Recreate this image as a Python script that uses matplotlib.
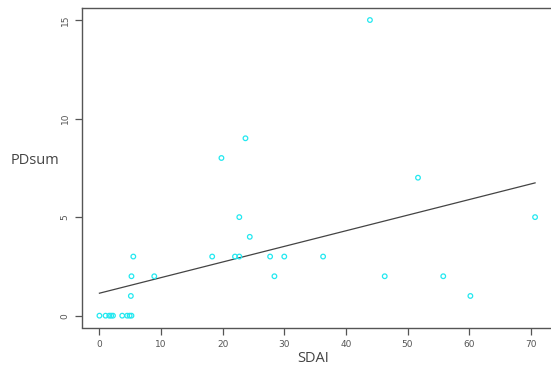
import numpy as np
import matplotlib
matplotlib.use("Agg")
import matplotlib.pyplot as plt

# SDAI score and summed PD count per patient
sdai = [0.0, 1.0, 1.6, 1.9, 2.2, 3.7, 4.5, 4.9, 5.2,
        5.1, 5.2, 8.9, 5.5, 18.3, 22.0, 22.7, 27.7, 30.0,
        28.4, 24.4, 22.7, 19.8, 23.7, 43.9, 51.7, 36.3,
        46.3, 55.8, 60.2, 70.7]
pdsum = [0, 0, 0, 0, 0, 0, 0, 0, 0,
         1, 2, 2, 3, 3, 3, 3, 3, 3,
         2, 4, 5, 8, 9, 15, 7, 3,
         2, 2, 1, 5]

x_ticks = [0, 10, 20, 30, 40, 50, 60, 70]
y_ticks = [0, 5, 10, 15]

x = np.array(sdai)
y = np.array(pdsum)
slope, intercept = np.polyfit(x, y, 1)

W, H = 551, 374
fig = plt.figure(figsize=(W / 100, H / 100), dpi=100)
fig.patch.set_facecolor("white")
left, right, bottom, top = 82, 552.5, 327.5, 8.2
ax = fig.add_axes([left / W, (H - bottom) / H, (right - left) / W, (bottom - top) / H])

ax.scatter(x, y, s=11, facecolors="none", edgecolors="#22e8f0", linewidths=0.9, zorder=3)
xs = np.array([x.min(), x.max()])
ax.plot(xs, intercept + slope * xs, color="#444444", lw=0.9, zorder=2)

xpad = 0.04 * (x.max() - x.min())
ax.set_xlim(x.min() - xpad, x.max() + xpad)
ax.set_ylim(-0.6, 15.6)

ax.set_xticks(x_ticks)
ax.set_yticks(y_ticks)
ax.set_xticklabels([str(t) for t in x_ticks])
ax.set_yticklabels([str(t) for t in y_ticks], rotation=90, va="center")
ax.tick_params(axis="both", length=5, width=0.9, color="#555555",
               labelsize=6.5, labelcolor="#555555", pad=4)

for s in ax.spines.values():
    s.set_color("#555555")
    s.set_linewidth(1.0)
ax.spines["right"].set_visible(False)

fig.text(313 / W, 1 - 359 / H, "SDAI", fontsize=10.5, family="Open Sans",
         color="#444444", ha="center", va="center")
fig.text(35 / W, 1 - 161 / H, "PDsum", fontsize=10.5, family="Open Sans",
         color="#444444", ha="center", va="center")

fig.savefig("out.png", dpi=100)
